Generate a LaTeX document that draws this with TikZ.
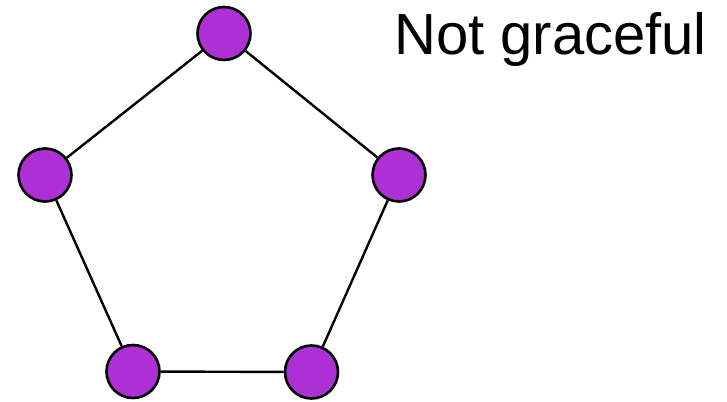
\documentclass[tikz,border=0pt]{standalone}
\usepackage{fontspec}
\setmainfont{Liberation Sans}
\begin{document}
\begin{tikzpicture}[x=1pt,y=1pt,
  vert/.style={circle,draw=black,line width=2.6pt,fill=vcol,minimum size=53pt,inner sep=0pt},
  edge/.style={line width=2.4pt,draw=black}]
\definecolor{vcol}{HTML}{AC30D4}
\useasboundingbox (0,0) rectangle (727,401);
\node[vert] (t) at (224,367.5) {};
\node[vert] (l) at (45,226) {};
\node[vert] (r) at (399,226) {};
\node[vert] (bl) at (133,29.5) {};
\node[vert] (br) at (311.5,29) {};
\draw[edge] (t) -- (l);
\draw[edge] (t) -- (r);
\draw[edge] (l) -- (bl);
\draw[edge] (r) -- (br);
\draw[edge] (bl) -- (br);
\node[anchor=base west,inner sep=0pt,font=\fontsize{58}{60}\selectfont] (lbl) at (394,346) {Not graceful};
\end{tikzpicture}
\end{document}
